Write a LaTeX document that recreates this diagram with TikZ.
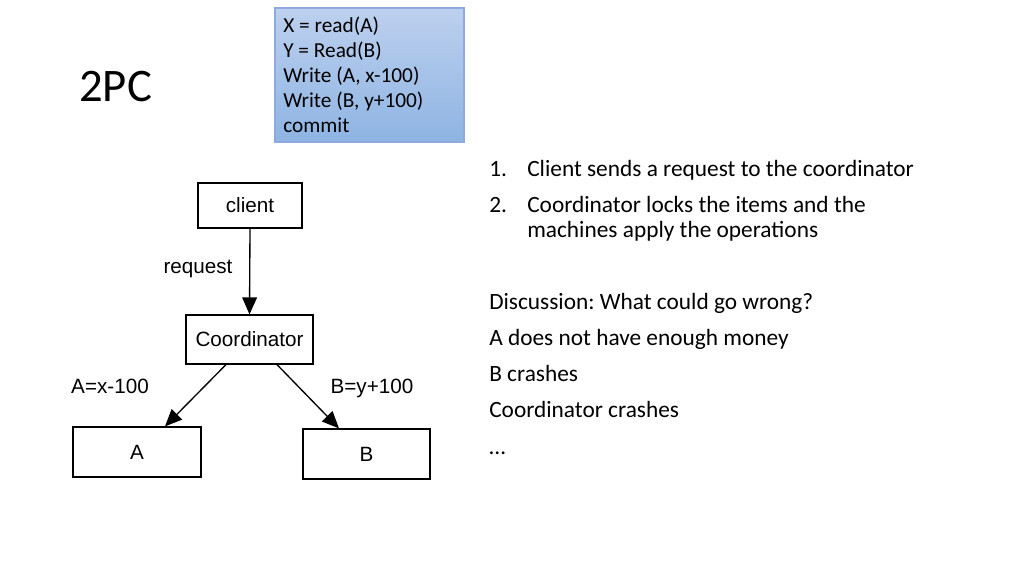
\documentclass[tikz,border=0pt]{standalone}
\usepackage{fontspec}
\setmainfont{Carlito}
\newfontfamily\arialf{Liberation Sans}
\usetikzlibrary{arrows.meta,calc}
\definecolor{boxtop}{HTML}{BDD0EE}
\definecolor{boxbot}{HTML}{8EB4E3}
\definecolor{boxline}{HTML}{8FAADC}
\tikzset{
  box/.style={draw=black, line width=0.9pt, inner sep=0pt, font=\arialf\fontsize{15.5}{18}\selectfont},
  lbl/.style={anchor=base, inner sep=0pt, font=\arialf\fontsize{15.5}{18}\selectfont},
  arr/.style={line width=1pt, -{Triangle[length=12.75pt,width=11pt]}},
  code/.style={anchor=base west, inner sep=0pt, font=\fontsize{16}{19}\selectfont},
  txt/.style={anchor=base west, inner sep=0pt, font=\fontsize{17.5}{21}\selectfont},
}
\begin{document}
\frenchspacing
\begin{tikzpicture}[x=0.75pt,y=-0.75pt]
\useasboundingbox (0,0) rectangle (1024,576);
% code box
\node[draw=boxline, line width=0.8pt, top color=boxtop, bottom color=boxbot,
      minimum width=141.75pt, minimum height=100.5pt, inner sep=0pt] (codebox) at (369.5,75) {};
\node[code] (c1) at (283,32.3) {X = read(A)};
\node[code] (c2) at (283,57.3) {Y = Read(B)};
\node[code] (c3) at (283,82.3) {Write (A, x-100)};
\node[code] (c4) at (283,107.3) {Write (B, y+100)};
\node[code] (c5) at (283,132.3) {commit};
% title
\node[anchor=base west, inner sep=0pt, font=\fontsize{35}{40}\selectfont] (title) at (79,101) {2PC};
% diagram
\node[box, minimum width=78pt, minimum height=33.75pt] (client) at (250,205.5) {client};
\node[box, minimum width=95.25pt, minimum height=36.75pt] (coord) at (249.5,339.5) {Coordinator};
\node[box, minimum width=96pt, minimum height=37.5pt] (A) at (137,452) {A};
\node[box, minimum width=95.25pt, minimum height=37.5pt] (B) at (366.5,454) {B};
\draw[arr] (client.south) -- (coord.north);
\draw[arr] ($(coord.south)+(-23.5,0)$) -- ($(A.north)+(28,0)$);
\draw[arr] ($(coord.south)+(27.5,0)$) -- ($(B.north)+(-27.5,0)$);
\node[lbl] (lreq) at (198,273) {request};
\node[lbl] (lA) at (110,393) {A=x-100};
\node[lbl] (lB) at (372,393) {B=y+100};
% right text
\node[txt] (n1) at (489,176) {1.};
\node[txt] (t1) at (527,176) {Client sends a request to the coordinator};
\node[txt] (n2) at (489,212) {2.};
\node[txt] (t2) at (527,212) {Coordinator locks the items and the};
\node[txt] (t2b) at (527,237.5) {machines apply the operations};
\node[txt] (d1) at (489,309) {Discussion: What could go wrong?};
\node[txt] (d2) at (489,345) {A does not have enough money};
\node[txt] (d3) at (489,381) {B crashes};
\node[txt] (d4) at (489,417) {Coordinator crashes};
\node[txt] (d5) at (489,454) {…};
\end{tikzpicture}
\end{document}
